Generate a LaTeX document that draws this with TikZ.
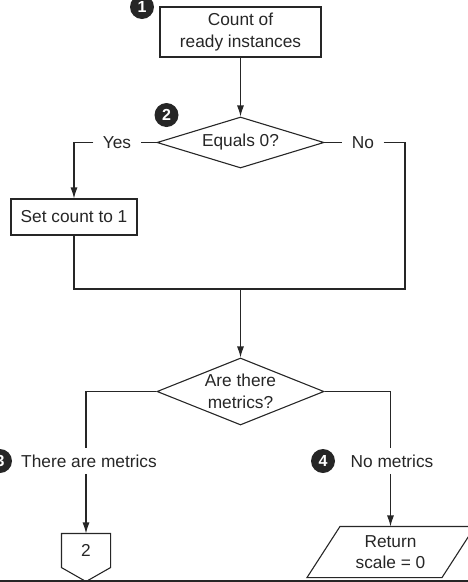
\documentclass[tikz,border=0pt]{standalone}
\usepackage{fontspec}
\setmainfont{Liberation Sans}
\usetikzlibrary{shapes.geometric,arrows.meta}
\definecolor{ink}{HTML}{262626}
\begin{document}
\begin{tikzpicture}[x=1pt, y=-1pt, line width=1.1pt, color=ink,
	every node/.style={font=\fontsize{17.3}{21.5}\selectfont},
	stepbox/.style={draw, rectangle, align=center, inner sep=0pt},
	decision/.style={draw, diamond, aspect=2.5, inner sep=-6pt, align=center, minimum width=167pt},
	tag/.style={inner xsep=9pt, inner ysep=6pt},
	badge/.style={circle, fill=ink, text=white, inner sep=0pt, minimum size=24pt, font=\fontsize{16}{16}\selectfont\bfseries},
	arr/.style={-{Latex[length=11pt,width=7pt]}}]
	\useasboundingbox (0,0) rectangle (468,582);
	\node[stepbox, minimum width=161pt, minimum height=50pt] (count) at (240.5,32) {Count of\\ready instances};
	\node[decision, minimum height=51pt] (eq) at (240.5,142.5) {Equals 0?};
	\node[stepbox, minimum width=126pt, minimum height=36pt] (setc) at (74,217) {Set count to 1};
	\node[decision, minimum height=67pt] (met) at (240.5,391.5) {Are there\\metrics?};
	\node[inner sep=0pt, minimum width=48pt, minimum height=33pt] (two) at (86,550.5) {2};
	\node[inner sep=0pt, minimum width=100pt, minimum height=50pt, align=center] (ret) at (390.5,552) {Return\\scale = 0};
	\node[tag] (yes) at (117,142.5) {Yes};
	\node[tag] (no) at (363,142.5) {No};
	\node[tag] (tam) at (89,461) {There are metrics};
	\node[tag] (nom) at (392,461) {No metrics};
	\node[badge] (b1) at (142,7) {1};
	\node[badge] (b2) at (166.5,115) {2};
	\node[badge] (b3) at (0,461) {3};
	\node[badge] (b4) at (323,461) {4};
	\coordinate (mrg) at (240.5,289);
	\coordinate (rgt) at (405,289);
	\draw[arr] (count) -- (eq);
	\draw (eq.west) -- (yes.east);
	\draw[arr] (yes.west) -| (setc.north);
	\draw (eq.east) -- (no.west);
	\draw (no.east) -| (rgt) -- (mrg);
	\draw (setc.south) |- (mrg);
	\draw[arr] (mrg) -- (met);
	\draw (met.west) -| (tam.north -| two);
	\draw[arr] (tam.south -| two) -- (two.north);
	\draw (met.east) -| (nom.north -| ret);
	\draw[arr] (nom.south -| ret) -- (ret.north);
	\draw (two.south west) -- (two.north west) -- (two.north east) -- (two.south east) -- ([yshift=-14pt]two.south) -- cycle;
	\draw ([xshift=-83.5pt]ret.south) -- ([xshift=-50.5pt]ret.north) -- ([xshift=84.5pt]ret.north) -- ([xshift=51.5pt]ret.south) -- cycle;
	\draw[line width=1.6pt] (0,581) -- (468,581);
\end{tikzpicture}
\end{document}
